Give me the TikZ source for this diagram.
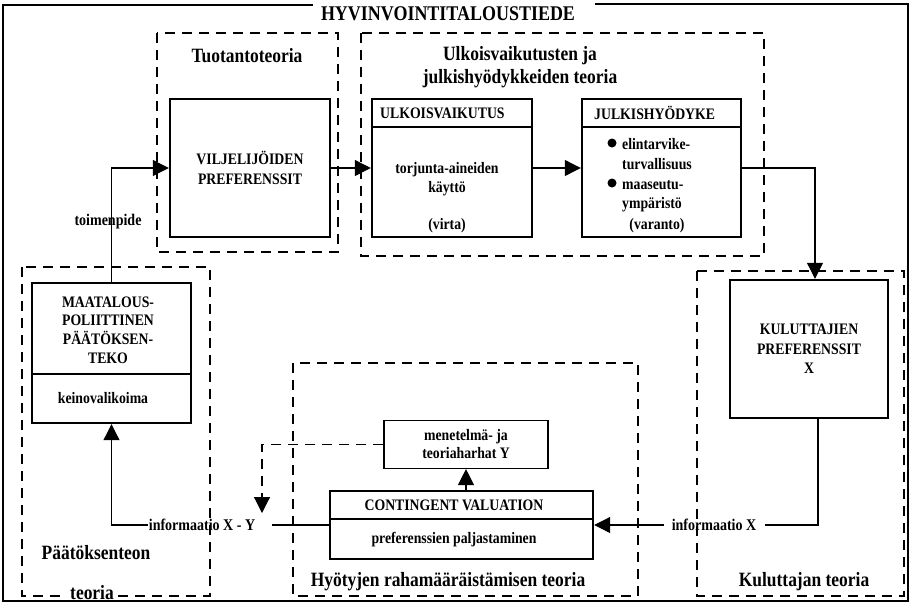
\documentclass[tikz,border=0pt]{standalone}
\usepackage{fontspec}
\setmainfont{Liberation Serif}[FakeStretch=0.86]
\usetikzlibrary{arrows.meta,calc}
\begin{document}
\begin{tikzpicture}[x=1pt,y=-1pt,
  base/.style={font=\fontsize{16}{19}\selectfont\bfseries, align=center, inner sep=0pt},
  sect/.style={font=\fontsize{20.3}{23}\selectfont\bfseries, align=center, inner sep=0pt},
  ttl/.style={font=\fontsize{20.9}{22}\selectfont\bfseries, inner sep=0pt},
  lab/.style={font=\fontsize{16.3}{17}\selectfont\bfseries, inner sep=0pt},
  bigbox/.style={draw, line width=2.4pt, inner sep=0pt, align=center, font=\fontsize{16}{19.5}\selectfont\bfseries},
  thinbox/.style={draw, line width=1.1pt, inner sep=0pt, align=center, font=\fontsize{16}{18}\selectfont\bfseries},
  zone/.style={line width=1.3pt, dash pattern=on 10pt off 7pt},
  conn/.style={line width=1.1pt},
  divider/.style={line width=1.1pt},
  arr/.style={conn, -{Triangle[length=16pt,width=16pt]}},
  dasharr/.style={line width=1.1pt, dash pattern=on 10pt off 7pt, -{Triangle[length=16pt,width=16pt]}},
  frame/.style={line width=1.4pt}]
\useasboundingbox (0,0) rectangle (912,606);

% zones
\draw[zone] (157,33) rectangle (338,252);
\draw[zone] (361,33) rectangle (764,256);
\draw[zone] (697,271) rectangle (904,596);
\draw[zone] (22,267) rectangle (210,596);
\draw[zone] (293,363) rectangle (638,596);

% section labels
\node[ttl] (title) at (448,14) {HYVINVOINTITALOUSTIEDE};
\node[sect] (tuot) at (247,56) {Tuotantoteoria};
\node[sect] (ulk) at (520,67) {Ulkoisvaikutusten ja\\julkishyödykkeiden teoria};
\node[sect] (pts) at (96,553) {Päätöksenteon};
\node[sect, fill=white, inner xsep=4pt] (pts2) at (92,593) {teoria};
\node[sect] (hyot) at (448,582) {Hyötyjen rahamääräistämisen teoria};
\node[sect] (kul) at (804,582) {Kuluttajan teoria};

% outer frame
\coordinate (tl) at (313,5);
\coordinate (tr) at (595,4);
\draw[frame] (tl) -- (3,5) -- (3,601) -- (908,601) -- (908,4) -- (tr);

% boxes
\node[bigbox, minimum width=160pt, minimum height=138pt] (A) at (250,168) {VILJELIJÖIDEN\\PREFERENSSIT};
\node[bigbox, minimum width=160pt, minimum height=138pt] (B) at (452,168) {};
\node[bigbox, minimum width=159pt, minimum height=138pt] (C) at (661.5,168) {};
\node[bigbox, minimum width=158pt, minimum height=138pt] (D) at (809,349) {KULUTTAJIEN\\PREFERENSSIT\\X};
\node[bigbox, minimum width=159pt, minimum height=140pt] (E) at (111.5,353) {};
\node[bigbox, minimum width=263pt, minimum height=68pt] (F) at (461.5,525) {};
\node[thinbox, minimum width=164pt, minimum height=48pt] (G) at (466,444.5) {menetelmä- ja\\teoriaharhat Y};

% box B content
\draw[divider] (B.west |- 0,127) -- (B.east |- 0,127);
\node[base, anchor=west] (Bh) at (380,113) {ULKOISVAIKUTUS};
\node[base] (Bt) at (447,179.5) {torjunta-aineiden\\käyttö};
\node[base] (Bv) at (447,226) {(virta)};

% box C content
\draw[divider] (C.west |- 0,127) -- (C.east |- 0,127);
\node[base, anchor=west] (Ch) at (594,113) {JULKISHYÖDYKE};
\node[base, anchor=base west] (C1) at (622,149) {elintarvike-};
\node[base, anchor=base west] (C2) at (622,169) {turvallisuus};
\node[base, anchor=base west] (C3) at (622,189) {maaseutu-};
\node[base, anchor=base west] (C4) at (622,208) {ympäristö};
\fill (612,143) circle (4.5pt);
\fill (612,183) circle (4.5pt);
\node[base] (Cv) at (657,226) {(varanto)};

% box E content
\node[base, font=\fontsize{16}{18.7}\selectfont\bfseries] (Et) at (108,330) {MAATALOUS-\\POLIITTINEN\\PÄÄTÖKSEN-\\TEKO};
\draw[divider] (E.west |- 0,374) -- (E.east |- 0,374);
\node[base] (Ek) at (103,398) {keinovalikoima};

% box F content
\draw[divider] (F.west |- 0,519) -- (F.east |- 0,519);
\node[base] (Fh) at (454,505) {CONTINGENT VALUATION};
\node[base] (Fp) at (454,540) {preferenssien paljastaminen};

% connectors
\draw[arr] (A.east) -- (B.west);
\draw[arr] (B.east) -- (C.west);
\draw[arr] (C.east) -| ([xshift=6pt]D.north);
\node[lab] (toim) at (108,222) {toimenpide};
\draw[arr] (E.north) |- (A.west);
\draw[arr] (G.south |- F.north) -- (G.south);
\coordinate (gtip) at (262,513);
\draw[dasharr] (G.west) -| (gtip);

\node[lab] (ix) at (714,525) {informaatio X};
\draw[conn] ([xshift=9pt]D.south) |- ([xshift=9pt]ix.east);
\draw[arr] ([xshift=-8pt]ix.west) -- (F.east);

\node[lab] (ixy) at (202,525) {informaatio X - Y};
\draw[conn] (F.west) -- ([xshift=17pt]ixy.east);
\draw[arr] ([xshift=-1pt]ixy.west) -| (E.south);
\end{tikzpicture}
\end{document}
